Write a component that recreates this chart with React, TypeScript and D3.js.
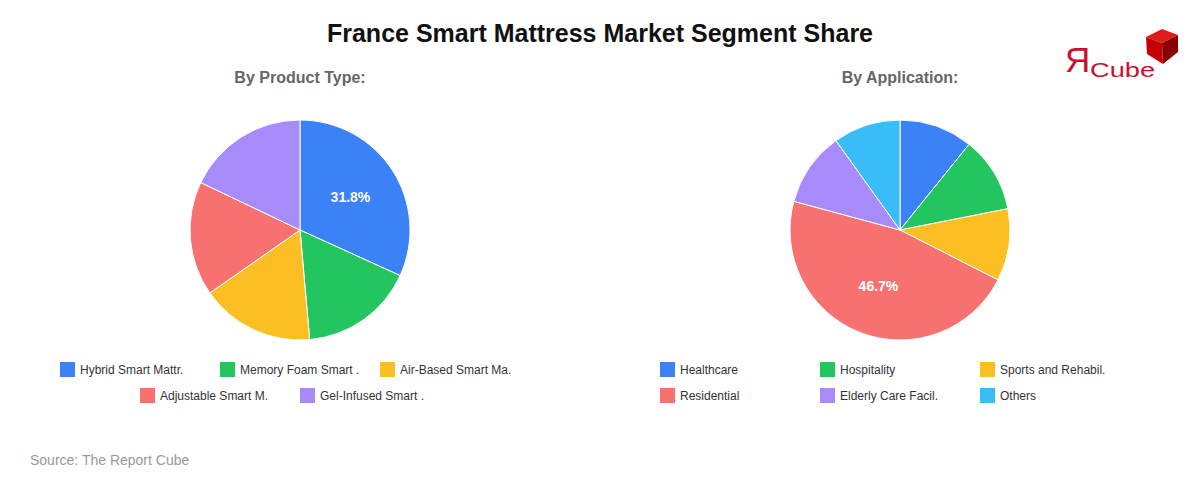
import React, { useEffect, useRef } from 'react';
import * as d3 from 'd3';

const productTypes = ['Hybrid Smart Mattr.', 'Memory Foam Smart .', 'Air-Based Smart Ma.', 'Adjustable Smart M.', 'Gel-Infused Smart .'];
const productShares = [31.8, 16.8, 16.7, 16.8, 17.9];

const applications = ['Healthcare', 'Hospitality', 'Sports and Rehabil.', 'Residential', 'Elderly Care Facil.', 'Others'];
const applicationShares = [10.8, 11.1, 10.6, 46.7, 10.9, 9.9];

const palette = ['#3b82f6', '#22c55e', '#fbbf24', '#f87171', '#a78bfa', '#38bdf8'];

const FONT = 'Arial, "Liberation Sans", Helvetica, sans-serif';

function App() {
  const chartRef = useRef<SVGSVGElement>(null);

  useEffect(() => {
    document.body.style.margin = '0';
    const svg = d3.select(chartRef.current);
    svg.selectAll('*').remove();

    svg.append('rect').attr('width', 1200).attr('height', 480).attr('fill', '#fff');

    svg.append('text')
      .attr('x', 600).attr('y', 42)
      .attr('text-anchor', 'middle')
      .style('font-family', FONT).style('font-size', '25px').style('font-weight', 'bold')
      .attr('fill', '#111')
      .text('France Smart Mattress Market Segment Share');

    const drawPie = (cx: number, title: string, names: string[], values: number[], perRow: number) => {
      const g = svg.append('g');
      g.append('text')
        .attr('x', cx).attr('y', 83)
        .attr('text-anchor', 'middle')
        .style('font-family', FONT).style('font-size', '16px').style('font-weight', 'bold')
        .attr('fill', '#666')
        .text(title);

      const data = names.map((n, i) => ({ name: n, value: values[i], color: palette[i] }));
      const pie = d3.pie<any>().sort(null).value(d => d.value);
      const radius = 110;
      const arc = d3.arc<any>().innerRadius(0).outerRadius(radius);
      const labelArc = d3.arc<any>().innerRadius(60).outerRadius(60);

      const pg = g.append('g').attr('transform', `translate(${cx},230)`);
      const arcs = pie(data);
      pg.selectAll('path')
        .data(arcs)
        .enter().append('path')
        .attr('d', arc)
        .attr('fill', d => d.data.color)
        .attr('stroke', '#fff')
        .attr('stroke-width', 1);

      // only the big slice gets a label
      pg.selectAll('text.lbl')
        .data(arcs.filter(d => d.data.value > 25))
        .enter().append('text')
        .attr('class', 'lbl')
        .attr('transform', d => `translate(${labelArc.centroid(d)})`)
        .attr('text-anchor', 'middle')
        .attr('dy', '0.35em')
        .style('font-family', FONT).style('font-size', '14px').style('font-weight', 'bold')
        .attr('fill', '#fff')
        .text(d => d.data.value.toFixed(1) + '%');

      // legend
      const itemW = 160;
      data.forEach((d, i) => {
        const row = Math.floor(i / perRow);
        const inRow = Math.min(perRow, data.length - row * perRow);
        const col = i % perRow;
        const x0 = cx - (inRow * itemW) / 2 + col * itemW;
        const y0 = 362 + row * 26;
        g.append('rect')
          .attr('x', x0).attr('y', y0)
          .attr('width', 15).attr('height', 15)
          .attr('fill', d.color);
        g.append('text')
          .attr('x', x0 + 20).attr('y', y0 + 12)
          .style('font-family', FONT).style('font-size', '12px')
          .attr('fill', '#333')
          .text(d.name);
      });
    };

    drawPie(300, 'By Product Type:', productTypes, productShares, 3);
    drawPie(900, 'By Application:', applications, applicationShares, 3);

    svg.append('text')
      .attr('x', 30).attr('y', 465)
      .style('font-family', FONT).style('font-size', '14px')
      .attr('fill', '#999')
      .text('Source: The Report Cube');

    // logo
    const logo = svg.append('g');
    logo.append('text')
      .attr('x', 1065).attr('y', 72)
      .style('font-family', FONT).style('font-size', '35px')
      .attr('fill', '#c8102e')
      .text('Я');
    logo.append('text')
      .attr('x', 1090).attr('y', 77)
      .attr('textLength', 65).attr('lengthAdjust', 'spacingAndGlyphs')
      .style('font-family', FONT).style('font-size', '21px')
      .attr('fill', '#c8102e')
      .text('Cube');
    const cube = logo.append('g');
    cube.append('polygon').attr('points', '1146,37 1162,29 1178,35 1162,43').attr('fill', '#e01b1b');
    cube.append('polygon').attr('points', '1146,37 1162,43 1163,64 1147,54').attr('fill', '#c40000');
    cube.append('polygon').attr('points', '1162,43 1178,35 1178,52 1163,64').attr('fill', '#8a0000');
  }, []);

  return <svg ref={chartRef} width={1200} height={480} style={{ display: 'block' }}></svg>;
}

export default App;
